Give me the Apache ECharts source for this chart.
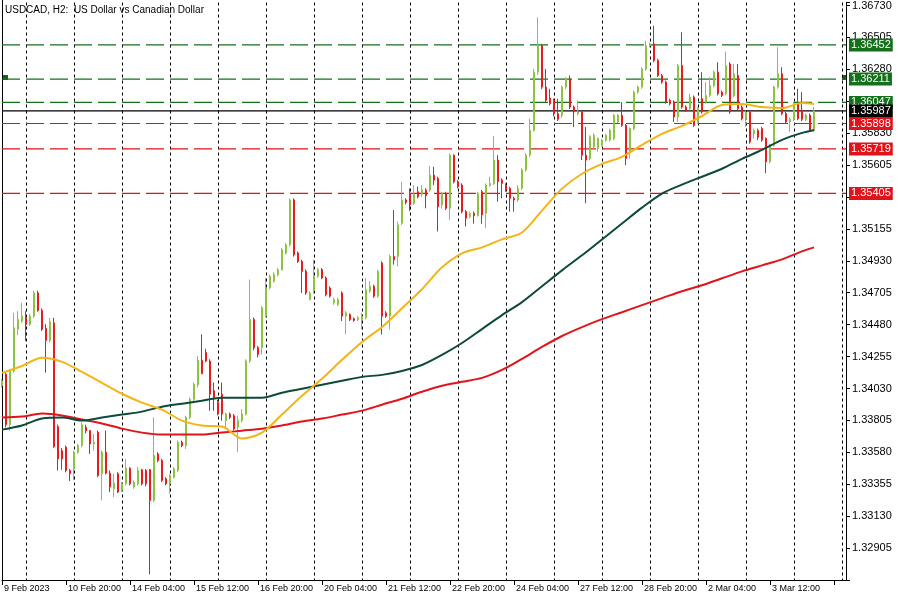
<!DOCTYPE html>
<html><head><meta charset="utf-8">
<script src="https://cdn.jsdelivr.net/npm/echarts@6/dist/echarts.min.js"></script>
<style>html,body{margin:0;padding:0;background:#fff}#c{width:900px;height:600px}</style>
</head><body><div id="c"></div>
<script>
// ---- data (H2 bars, 9 Feb 2023 12:00 onward) ----
const opens = [
1.34049,1.34131,1.33775,1.34154,1.34447,1.34505,1.34528,1.34482,1.34540,1.34704,
1.34580,1.34454,1.34369,1.34493,1.33761,1.33592,1.33616,1.33452,1.33463,1.33581,
1.33628,1.33756,1.33733,1.33639,1.33721,1.33429,1.33581,1.33433,1.33323,1.33429,
1.33312,1.33358,1.33468,1.33335,1.33358,1.33457,1.33452,1.33457,1.33241,1.33569,
1.33522,1.33394,1.33358,1.33405,1.33452,1.33651,1.33628,1.33826,1.33955,1.34056,
1.34229,1.34283,1.34224,1.34014,1.33932,1.33990,1.33803,1.33850,1.33838,1.33757,
1.33803,1.33850,1.34224,1.34517,1.34318,1.34318,1.34540,1.34739,1.34786,1.34833,
1.34868,1.34985,1.35043,1.35359,1.34985,1.34926,1.34856,1.34657,1.34720,1.34821,
1.34868,1.34809,1.34739,1.34634,1.34622,1.34704,1.34540,1.34552,1.34522,1.34517,
1.34517,1.34528,1.34716,1.34751,1.34680,1.34914,1.34563,1.34540,1.34961,1.34961,
1.35195,1.35359,1.35406,1.35336,1.35417,1.35399,1.35429,1.35429,1.35534,1.35511,
1.35324,1.35406,1.35300,1.35675,1.35488,1.35464,1.35277,1.35242,1.35265,1.35249,
1.35417,1.35265,1.35460,1.35476,1.35640,1.35499,1.35464,1.35441,1.35371,1.35359,
1.35441,1.35570,1.35675,1.35850,1.36260,1.36447,1.36155,1.36077,1.36061,1.35967,
1.35956,1.36155,1.36213,1.36014,1.35967,1.35979,1.35675,1.35651,1.35733,1.35722,
1.35745,1.35780,1.35780,1.35792,1.35909,1.35956,1.35885,1.35698,1.35862,1.36119,
1.36155,1.36283,1.36447,1.36459,1.36342,1.36236,1.36190,1.36061,1.36049,1.35944,
1.36307,1.36014,1.36003,1.36084,1.35909,1.36073,1.36049,1.36096,1.36166,1.36260,
1.36119,1.36108,1.36318,1.36096,1.36236,1.36014,1.35932,1.35979,1.35827,1.35850,
1.35862,1.35792,1.35628,1.35745,1.36155,1.36249,1.35968,1.35909,1.35928,1.36038,
1.35991,1.35928,1.35956,1.35851];
const closes = [
1.34084,1.33775,1.34154,1.34458,1.34517,1.34540,1.34482,1.34540,1.34704,1.34580,
1.34447,1.34369,1.34500,1.33621,1.33534,1.33534,1.33452,1.33429,1.33581,1.33628,
1.33775,1.33733,1.33639,1.33651,1.33417,1.33581,1.33433,1.33335,1.33363,1.33300,
1.33358,1.33468,1.33358,1.33370,1.33452,1.33358,1.33358,1.33241,1.33557,1.33522,
1.33382,1.33358,1.33417,1.33463,1.33651,1.33628,1.33826,1.33955,1.34060,1.34229,
1.34135,1.34224,1.33990,1.33967,1.33850,1.33850,1.33850,1.33827,1.33745,1.33803,
1.33850,1.34224,1.34517,1.34318,1.34271,1.34599,1.34739,1.34821,1.34833,1.34868,
1.35008,1.35043,1.35359,1.34973,1.34926,1.34856,1.34704,1.34704,1.34821,1.34868,
1.34809,1.34692,1.34681,1.34657,1.34657,1.34540,1.34564,1.34517,1.34510,1.34529,
1.34540,1.34727,1.34751,1.34680,1.34856,1.34540,1.34540,1.34961,1.34938,1.35183,
1.35359,1.35343,1.35324,1.35399,1.35382,1.35429,1.35389,1.35534,1.35499,1.35312,
1.35406,1.35300,1.35675,1.35488,1.35453,1.35277,1.35230,1.35265,1.35249,1.35406,
1.35254,1.35464,1.35476,1.35640,1.35488,1.35476,1.35429,1.35371,1.35359,1.35441,
1.35570,1.35675,1.35850,1.36260,1.36447,1.36155,1.36061,1.36038,1.35967,1.35928,
1.36155,1.36213,1.36014,1.35979,1.35979,1.35675,1.35640,1.35804,1.35815,1.35792,
1.35780,1.35815,1.35850,1.35956,1.35956,1.35885,1.35651,1.35862,1.36119,1.36155,
1.36283,1.36447,1.36459,1.36342,1.36236,1.36190,1.36049,1.36038,1.35944,1.36307,
1.36014,1.35991,1.36084,1.35885,1.36003,1.35979,1.36096,1.36166,1.36260,1.36108,
1.36096,1.36307,1.35979,1.36248,1.36003,1.35932,1.35979,1.35768,1.35850,1.35800,
1.35781,1.35628,1.35745,1.36155,1.36249,1.35968,1.35909,1.35928,1.36038,1.35933,
1.35928,1.35956,1.35851,1.35987];
const lows = [
1.34037,1.33756,1.33733,1.34142,1.34407,1.34493,1.34365,1.34470,1.34528,1.34571,
1.34435,1.34142,1.34353,1.33611,1.33452,1.33457,1.33440,1.33377,1.33382,1.33569,
1.33616,1.33714,1.33569,1.33592,1.33405,1.33241,1.33424,1.33300,1.33265,1.33293,
1.33300,1.33347,1.33347,1.33323,1.33347,1.33347,1.33340,1.32720,1.33229,1.33511,
1.33370,1.33347,1.33288,1.33394,1.33440,1.33616,1.33604,1.33815,1.33943,1.34037,
1.34131,1.34215,1.33873,1.33873,1.33840,1.33803,1.33757,1.33815,1.33735,1.33581,
1.33790,1.33840,1.34210,1.34300,1.34250,1.34271,1.34530,1.34730,1.34775,1.34820,
1.34860,1.34975,1.35030,1.34960,1.34915,1.34704,1.34690,1.34650,1.34700,1.34810,
1.34800,1.34680,1.34670,1.34620,1.34610,1.34505,1.34412,1.34505,1.34500,1.34505,
1.34446,1.34517,1.34704,1.34669,1.34669,1.34411,1.34528,1.34446,1.34903,1.34891,
1.35183,1.35328,1.35281,1.35324,1.35371,1.35382,1.35300,1.35417,1.35464,1.35137,
1.35300,1.35288,1.35219,1.35476,1.35441,1.35265,1.35172,1.35230,1.35192,1.35242,
1.35192,1.35160,1.35453,1.35464,1.35347,1.35371,1.35417,1.35277,1.35277,1.35347,
1.35429,1.35560,1.35660,1.35840,1.36240,1.36140,1.36050,1.36025,1.35950,1.35915,
1.35940,1.36140,1.36000,1.35874,1.35955,1.35640,1.35336,1.35640,1.35720,1.35700,
1.35735,1.35770,1.35770,1.35780,1.35900,1.35875,1.35605,1.35651,1.35850,1.36108,
1.36143,1.36270,1.36435,1.36330,1.36225,1.36178,1.36038,1.36026,1.35909,1.35909,
1.36003,1.35979,1.35991,1.35874,1.35897,1.35967,1.36038,1.36084,1.36155,1.36096,
1.36084,1.36096,1.35967,1.36084,1.35991,1.35920,1.35874,1.35756,1.35792,1.35780,
1.35770,1.35547,1.35617,1.35735,1.36143,1.35956,1.35897,1.35839,1.35915,1.35921,
1.35915,1.35915,1.35839,1.35839];
const highs = [
1.34096,1.34142,1.34166,1.34564,1.34575,1.34634,1.34575,1.34556,1.34720,1.34720,
1.34594,1.34482,1.34528,1.34528,1.33775,1.33611,1.33628,1.33463,1.33592,1.33639,
1.33791,1.33775,1.33737,1.33709,1.33733,1.33592,1.33733,1.33452,1.33429,1.33440,
1.33370,1.33534,1.33475,1.33382,1.33475,1.33463,1.33463,1.33463,1.33826,1.33581,
1.33534,1.33405,1.33429,1.33475,1.33663,1.33663,1.33838,1.33967,1.34072,1.34260,
1.34412,1.34310,1.34236,1.34072,1.33950,1.34072,1.33860,1.33860,1.33850,1.33838,
1.33885,1.34236,1.34798,1.34530,1.34330,1.34611,1.34809,1.34833,1.34850,1.34880,
1.35020,1.35055,1.35370,1.35370,1.34995,1.34938,1.34870,1.34715,1.34938,1.34880,
1.34880,1.34820,1.34750,1.34670,1.34670,1.34715,1.34575,1.34560,1.34530,1.34540,
1.34563,1.34809,1.34786,1.34762,1.34868,1.34926,1.34575,1.34973,1.35288,1.35207,
1.35488,1.35371,1.35441,1.35464,1.35453,1.35464,1.35441,1.35600,1.35593,1.35523,
1.35417,1.35417,1.35687,1.35680,1.35499,1.35476,1.35288,1.35277,1.35277,1.35417,
1.35429,1.35476,1.35523,1.35811,1.35675,1.35511,1.35476,1.35453,1.35382,1.35464,
1.35582,1.35690,1.35932,1.36283,1.36646,1.36459,1.36283,1.36143,1.36073,1.36073,
1.36166,1.36225,1.36236,1.36025,1.36061,1.35990,1.35874,1.35815,1.35830,1.35800,
1.35790,1.35825,1.35860,1.35965,1.35965,1.36049,1.35895,1.35870,1.36130,1.36166,
1.36295,1.36482,1.36470,1.36587,1.36355,1.36248,1.36200,1.36073,1.36061,1.36318,
1.36541,1.36026,1.36108,1.36096,1.36014,1.36260,1.36190,1.36225,1.36272,1.36330,
1.36130,1.36405,1.36330,1.36318,1.36318,1.36026,1.35990,1.35990,1.35862,1.35862,
1.35875,1.35800,1.35755,1.36165,1.36436,1.36295,1.35980,1.35940,1.36050,1.36143,
1.36120,1.35968,1.35968,1.36015];

// moving averages read at every 5th bar
const maBars = [0,5,10,15,20,25,30,35,40,45,50,55,60,65,70,75,80,85,90,95,100,105,110,115,120,125,130,135,140,145,150,155,160,165,170,175,180,185,190,195,200,203];
const maYellow = [1.34140,1.34189,1.34246,1.34218,1.34147,1.34070,1.33993,1.33930,1.33881,1.33804,1.33769,1.33762,1.33677,1.33719,1.33846,1.33979,1.34098,1.34232,1.34358,1.34463,1.34596,1.34730,1.34884,1.34983,1.35025,1.35081,1.35130,1.35284,1.35439,1.35544,1.35614,1.35663,1.35747,1.35825,1.35881,1.35951,1.36028,1.36035,1.36014,1.36007,1.36042,1.36035];
const maDarkGreen = [1.33740,1.33769,1.33818,1.33825,1.33804,1.33825,1.33846,1.33867,1.33902,1.33923,1.33944,1.33965,1.33965,1.33965,1.34000,1.34028,1.34056,1.34084,1.34112,1.34126,1.34154,1.34196,1.34267,1.34351,1.34449,1.34547,1.34639,1.34751,1.34863,1.34969,1.35081,1.35193,1.35305,1.35404,1.35467,1.35523,1.35579,1.35649,1.35712,1.35783,1.35832,1.35853];
const maRed = [1.33825,1.33832,1.33853,1.33839,1.33811,1.33783,1.33747,1.33719,1.33705,1.33705,1.33705,1.33719,1.33733,1.33747,1.33769,1.33797,1.33818,1.33846,1.33874,1.33916,1.33958,1.34007,1.34049,1.34077,1.34105,1.34161,1.34239,1.34323,1.34400,1.34463,1.34519,1.34568,1.34618,1.34667,1.34716,1.34758,1.34807,1.34856,1.34898,1.34940,1.34997,1.35025];

// horizontal price levels
const levelPrices = [1.36452, 1.36211, 1.36047, 1.35987, 1.35898, 1.35719, 1.35405];
const levelKinds  = ['res', 'res', 'res', 'bid', 'sup', 'sup', 'sup'];

// axes
const slotCount = 212;
const tickLabels = ['9 Feb 2023','10 Feb 20:00','14 Feb 04:00','15 Feb 12:00','16 Feb 20:00','20 Feb 04:00','21 Feb 12:00','22 Feb 20:00','24 Feb 04:00','27 Feb 12:00','28 Feb 20:00','2 Mar 04:00','3 Mar 12:00'];
const labelEvery = 16;   // bars between time labels
const dayStart = 6, barsPerDay = 12;
const priceMin = 1.32680, priceMax = 1.36751, priceStep = 0.00225;
const title = 'USDCAD, H2:  US Dollar vs Canadian Dollar';

// ---- chart ----
const GREEN = '#14701a', RED = '#e0121a';
const cats = Array.from({length: slotCount}, (_, i) => String(i));
const candles = opens.map((o, i) => [o, closes[i], lows[i], highs[i]]);
const maPairs = arr => maBars.map((b, k) => [b, arr[k]]);
const styleFor = kind => kind === 'res' ? {c: GREEN, t: [18, 6]} : kind === 'sup' ? {c: RED, t: [18, 6]} : {c: '#000', t: 'solid'};

const levelSeries = levelPrices.map((p, k) => {
  const s = styleFor(levelKinds[k]);
  return {
    type: 'line', data: [[0, p], [slotCount - 1, p]], showSymbol: false, silent: true, z: 2,
    lineStyle: {color: s.c, type: s.t, width: 1.2},
    endLabel: {show: true, distance: 3, formatter: p.toFixed(5), color: '#fff',
      backgroundColor: s.c, padding: [1, 2, 0, 2], fontSize: 11, lineHeight: 12, fontFamily: 'Liberation Sans'}
  };
});

const chart = echarts.init(document.getElementById('c'), null, {renderer: 'canvas'});
chart.setOption({
  animation: false,
  backgroundColor: '#fff',
  title: {text: title, left: 5, top: 5, padding: 0,
    textStyle: {fontSize: 10, fontWeight: 'normal', color: '#000', fontFamily: 'Liberation Sans'}},
  grid: {left: 2, right: 54, top: 0, bottom: 20},
  xAxis: {
    type: 'category', data: cats, boundaryGap: false,
    axisLine: {show: true, lineStyle: {color: '#000', width: 1}},
    axisTick: {show: true, length: 5, interval: i => i % labelEvery === 0, lineStyle: {color: '#000'}},
    axisLabel: {
      interval: i => i % labelEvery === 0, align: 'left', margin: 4, padding: [0, 0, 0, 2],
      fontSize: 9, color: '#000', fontFamily: 'Liberation Sans', showMinLabel: true,
      formatter: (v, i) => tickLabels[Math.round(i / labelEvery)] || ''
    },
    splitLine: {show: true, interval: i => i >= dayStart && (i - dayStart) % barsPerDay === 0,
      lineStyle: {color: '#000', type: [3, 3], width: 1}}
  },
  yAxis: {
    type: 'value', position: 'right', min: priceMin, max: priceMax, interval: priceStep, scale: true,
    axisLine: {show: true, lineStyle: {color: '#000'}},
    axisTick: {show: true, length: 4, lineStyle: {color: '#000'}},
    splitLine: {show: false},
    axisLabel: {
      fontSize: 11, color: '#000', margin: 6, fontFamily: 'Liberation Sans',
      formatter: v => {
        const k = (v - priceMin) / priceStep;
        if (Math.abs(k - Math.round(k)) > 1e-3 || Math.round(k) === 0) return '';
        return v.toFixed(5);
      }
    }
  },
  graphic: [
    {type: 'line', shape: {x1: 2.5, y1: 0, x2: 2.5, y2: 580}, style: {stroke: '#000', lineWidth: 1}, silent: true},
    {type: 'rect', shape: {x: 3, y: 75, width: 5, height: 5}, style: {fill: '#1d5e1d'}, silent: true},
    {type: 'rect', shape: {x: 842, y: 75, width: 5, height: 5}, style: {fill: '#1d5e1d'}, silent: true}
  ],
  series: levelSeries.concat([
    {
      type: 'candlestick', data: candles, barWidth: 2, z: 3,
      itemStyle: {color: '#8cc43f', color0: '#ea1b1f', borderColor: '#8cc43f', borderColor0: '#ea1b1f', borderWidth: 1}
    },
    {type: 'line', data: maPairs(maRed), showSymbol: false, smooth: 0.3, z: 4, lineStyle: {color: '#e2141b', width: 2}},
    {type: 'line', data: maPairs(maDarkGreen), showSymbol: false, smooth: 0.3, z: 4, lineStyle: {color: '#0c4a3a', width: 2}},
    {type: 'line', data: maPairs(maYellow), showSymbol: false, smooth: 0.3, z: 4, lineStyle: {color: '#f5b316', width: 2}}
  ])
});
</script>
</body></html>
